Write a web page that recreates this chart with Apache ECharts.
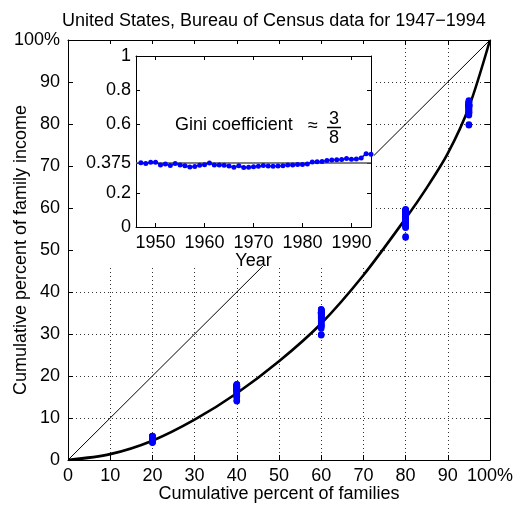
<!DOCTYPE html>
<html>
<head>
<meta charset="utf-8">
<script src="https://cdn.jsdelivr.net/npm/echarts@6/dist/echarts.min.js"></script>
<style>
  body { margin: 0; background: #fff; }
  #main { width: 522px; height: 506px; }
</style>
</head>
<body>
<div id="main"></div>
<script>
// years of the census tables
const years = [1947, 1948, 1949, 1950, 1951, 1952, 1953, 1954, 1955, 1956,
  1957, 1958, 1959, 1960, 1961, 1962, 1963, 1964, 1965, 1966,
  1967, 1968, 1969, 1970, 1971, 1972, 1973, 1974, 1975, 1976,
  1977, 1978, 1979, 1980, 1981, 1982, 1983, 1984, 1985, 1986,
  1987, 1988, 1989, 1990, 1991, 1992, 1993, 1994]

// share of income (%) for each fifth of families, and for the top 5%
const lowestFifth = [5.0, 4.9, 4.5, 4.5, 5.0, 4.9, 4.7, 4.5, 4.8, 5.0,
  5.1, 5.0, 4.9, 4.8, 4.7, 5.0, 5.0, 5.1, 5.2, 5.6,
  5.4, 5.6, 5.6, 5.4, 5.5, 5.5, 5.5, 5.7, 5.6, 5.6,
  5.5, 5.4, 5.4, 5.3, 5.3, 5.0, 4.9, 4.8, 4.8, 4.7,
  4.6, 4.6, 4.6, 4.6, 4.5, 4.3, 4.1, 4.2]
const secondFifth = [11.9, 12.1, 11.9, 12.0, 12.4, 12.3, 12.5, 12.1, 12.3, 12.5,
  12.7, 12.5, 12.3, 12.2, 11.9, 12.1, 12.1, 12.0, 12.2, 12.4,
  12.2, 12.4, 12.4, 12.2, 12.0, 11.9, 11.9, 12.0, 11.9, 11.9,
  11.7, 11.7, 11.6, 11.6, 11.4, 11.3, 11.2, 11.1, 11.0, 10.9,
  10.8, 10.7, 10.6, 10.8, 10.7, 10.5, 9.9, 10.0]
const thirdFifth = [17.0, 17.3, 17.3, 17.4, 17.6, 17.4, 18.0, 17.7, 17.8, 17.9,
  18.1, 18.0, 17.9, 17.8, 17.5, 17.6, 17.7, 17.7, 17.8, 17.8,
  17.5, 17.7, 17.7, 17.6, 17.6, 17.5, 17.5, 17.6, 17.7, 17.7,
  17.6, 17.6, 17.5, 17.6, 17.5, 17.2, 17.2, 17.1, 16.9, 16.9,
  16.9, 16.7, 16.5, 16.6, 16.6, 16.5, 15.7, 15.7]
const fourthFifth = [23.1, 23.2, 23.5, 23.4, 23.4, 23.4, 23.9, 23.9, 23.7, 23.7,
  23.8, 23.9, 23.8, 24.0, 23.8, 24.0, 24.0, 24.0, 23.9, 23.8,
  23.5, 23.7, 23.7, 23.8, 23.8, 23.9, 24.0, 24.1, 24.2, 24.2,
  24.3, 24.2, 24.1, 24.4, 24.6, 24.4, 24.5, 24.5, 24.3, 24.1,
  24.1, 24.0, 23.7, 23.8, 24.1, 24.0, 23.3, 23.3]
const topFivePercent = [17.5, 17.1, 16.9, 17.3, 16.8, 17.4, 15.7, 16.3, 16.4, 16.1,
  15.6, 15.4, 15.9, 15.9, 16.6, 15.7, 15.8, 15.9, 15.5, 15.6,
  16.4, 15.6, 15.6, 15.6, 15.7, 15.9, 15.5, 14.8, 14.9, 14.9,
  14.9, 15.1, 15.3, 14.6, 14.4, 15.3, 15.3, 15.4, 16.1, 16.5,
  16.9, 17.2, 17.9, 17.4, 17.1, 17.6, 20.3, 20.1]

// Gini coefficient per year (inset)
const gini = [0.376, 0.371, 0.378, 0.379, 0.363, 0.368, 0.359, 0.371, 0.363, 0.358,
  0.351, 0.354, 0.361, 0.364, 0.374, 0.362, 0.362, 0.361, 0.356, 0.349,
  0.358, 0.348, 0.349, 0.353, 0.355, 0.359, 0.356, 0.355, 0.357, 0.358,
  0.363, 0.363, 0.365, 0.365, 0.369, 0.380, 0.382, 0.383, 0.389, 0.392,
  0.393, 0.395, 0.401, 0.396, 0.397, 0.404, 0.429, 0.426]
const giniRef = 0.375

// fitted Lorenz curve
const lorenzX = [0, 10, 20, 30, 40, 50, 60, 70, 80, 85, 90, 95, 100]
const lorenzY = [0, 1.4, 4.6, 9.6, 15.9, 23.5, 32.5, 44.0, 57.5, 64.8, 73.0, 84, 100]

// line of equality
const equalityX = [0, 100]
const equalityY = [0, 100]

// tick labels
const insetYearTicks = [1950, 1960, 1970, 1980, 1990]
const insetGiniTicks = [0, 0.2, 0.375, 0.6, 0.8, 1]

const FONT = 'Liberation Sans, Arial, Helvetica, sans-serif'

// cumulative share of income held by the bottom 20/40/60/80/95 percent
const quintilePoints = []
years.forEach((y, i) => {
  const c20 = lowestFifth[i]
  const c40 = c20 + secondFifth[i]
  const c60 = c40 + thirdFifth[i]
  const c80 = c60 + fourthFifth[i]
  const c95 = 100 - topFivePercent[i]
  quintilePoints.push([20, c20], [40, c40], [60, c60], [80, c80], [95, c95])
})

const chart = echarts.init(document.getElementById('main'))

const mainAxisCommon = {
  type: 'value',
  min: 0,
  max: 100,
  interval: 10,
  gridIndex: 0,
  axisLine: { show: true, onZero: false, lineStyle: { color: '#000', width: 1 } },
  axisTick: { show: true, inside: true, length: 5, lineStyle: { color: '#000' } },
  splitLine: { show: false }
}
const pctLabel = v => (v === 100 ? '100%' : String(v))

const insetAxisCommon = {
  type: 'value',
  gridIndex: 1,
  z: 11,
  axisLine: { show: true, onZero: false, lineStyle: { color: '#000', width: 1 } },
  splitLine: { show: false }
}

const option = {
  animation: false,
  backgroundColor: '#fff',
  textStyle: { fontFamily: FONT },
  title: {
    text: 'United States, Bureau of Census data for 1947\u22121994',
    left: 57,
    top: 7,
    textStyle: { fontFamily: FONT, fontSize: 18, fontWeight: 'normal', color: '#000' }
  },
  grid: [
    { left: 68, top: 40, width: 422, height: 420, show: false, containLabel: false, outerBoundsMode: 'none' },
    { left: 136, top: 56, width: 235, height: 171, show: true, backgroundColor: '#fff', borderWidth: 0, z: 10, containLabel: false, outerBoundsMode: 'none' }
  ],
  graphic: [
    // white area behind the inset and its labels
    { type: 'rect', z: 5, silent: true, shape: { x: 74, y: 44, width: 300, height: 222 }, style: { fill: '#fff' } },
    { type: 'text', z: 20, style: { x: 175, y: 125, text: 'Gini coefficient', font: '18px ' + FONT, fill: '#000', verticalAlign: 'middle' } },
    { type: 'text', z: 20, style: { x: 308, y: 126, text: '\u2248', font: '18px ' + FONT, fill: '#000', verticalAlign: 'middle' } },
    { type: 'text', z: 20, style: { x: 334, y: 119, text: '3', font: '18px ' + FONT, fill: '#000', align: 'center', verticalAlign: 'middle' } },
    { type: 'line', z: 20, shape: { x1: 327, y1: 127.5, x2: 341, y2: 127.5 }, style: { stroke: '#000', lineWidth: 1.5 } },
    { type: 'text', z: 20, style: { x: 334, y: 138, text: '8', font: '18px ' + FONT, fill: '#000', align: 'center', verticalAlign: 'middle' } }
  ],
  xAxis: [
    {
      ...mainAxisCommon,
      position: 'bottom',
      axisLabel: { margin: 7, color: '#000', fontSize: 18, fontFamily: FONT, formatter: pctLabel },
      splitLine: { show: true, lineStyle: { type: [1, 3], color: '#333', width: 1 } },
      name: 'Cumulative percent of families',
      nameLocation: 'middle',
      nameGap: 25,
      nameMoveOverlap: false,
      nameTextStyle: { color: '#000', fontSize: 18, fontFamily: FONT }
    },
    { ...mainAxisCommon, position: 'top', axisLabel: { show: false } },
    {
      ...insetAxisCommon,
      min: 1946,
      max: 1994,
      position: 'bottom',
      axisTick: { show: true, inside: true, length: 4, customValues: insetYearTicks, lineStyle: { color: '#000' } },
      axisLabel: { customValues: insetYearTicks, margin: 7, color: '#000', fontSize: 18, fontFamily: FONT, formatter: v => String(v) },
      name: 'Year',
      nameLocation: 'middle',
      nameGap: 25,
      nameMoveOverlap: false,
      nameTextStyle: { color: '#000', fontSize: 18, fontFamily: FONT }
    },
    {
      ...insetAxisCommon,
      min: 1946,
      max: 1994,
      position: 'top',
      axisTick: { show: true, inside: true, length: 4, customValues: insetYearTicks, lineStyle: { color: '#000' } },
      axisLabel: { show: false }
    }
  ],
  yAxis: [
    {
      ...mainAxisCommon,
      position: 'left',
      axisLabel: { margin: 8, color: '#000', fontSize: 18, fontFamily: FONT, formatter: pctLabel },
      splitLine: { show: true, lineStyle: { type: [1, 3], color: '#333', width: 1 } },
      name: 'Cumulative percent of family income',
      nameLocation: 'middle',
      nameGap: 38,
      nameMoveOverlap: false,
      nameTextStyle: { color: '#000', fontSize: 18, fontFamily: FONT }
    },
    { ...mainAxisCommon, position: 'right', axisLabel: { show: false } },
    {
      ...insetAxisCommon,
      min: 0,
      max: 1,
      position: 'left',
      axisTick: { show: true, inside: true, length: 4, customValues: insetGiniTicks, lineStyle: { color: '#000' } },
      axisLabel: { customValues: insetGiniTicks, margin: 5, color: '#000', fontSize: 18, fontFamily: FONT, formatter: v => String(v) }
    },
    {
      ...insetAxisCommon,
      min: 0,
      max: 1,
      position: 'right',
      axisTick: { show: true, inside: true, length: 4, customValues: insetGiniTicks, lineStyle: { color: '#000' } },
      axisLabel: { show: false }
    }
  ],
  series: [
    {
      name: 'equality',
      type: 'line',
      xAxisIndex: 0,
      yAxisIndex: 0,
      z: 2,
      symbol: 'none',
      data: equalityX.map((x, i) => [x, equalityY[i]]),
      lineStyle: { color: '#000', width: 1 }
    },
    {
      name: 'lorenz',
      type: 'line',
      xAxisIndex: 0,
      yAxisIndex: 0,
      z: 6,
      symbol: 'none',
      smooth: 0.3,
      data: lorenzX.map((x, i) => [x, lorenzY[i]]),
      lineStyle: { color: '#000', width: 2.6 }
    },
    {
      name: 'quintiles',
      type: 'scatter',
      xAxisIndex: 0,
      yAxisIndex: 0,
      z: 7,
      symbolSize: 6.5,
      data: quintilePoints,
      itemStyle: { color: '#0000ff', opacity: 1 }
    },
    {
      name: 'gini 3/8',
      type: 'line',
      xAxisIndex: 2,
      yAxisIndex: 2,
      z: 12,
      symbol: 'none',
      data: [[1946, giniRef], [1994, giniRef]],
      lineStyle: { color: '#555', width: 1.5 }
    },
    {
      name: 'gini',
      type: 'line',
      xAxisIndex: 2,
      yAxisIndex: 2,
      z: 13,
      symbol: 'circle',
      symbolSize: 5,
      showAllSymbol: true,
      data: years.map((y, i) => [y, gini[i]]),
      lineStyle: { color: '#0000ff', width: 1.5 },
      itemStyle: { color: '#0000ff' }
    }
  ]
}

chart.setOption(option)
</script>
</body>
</html>
